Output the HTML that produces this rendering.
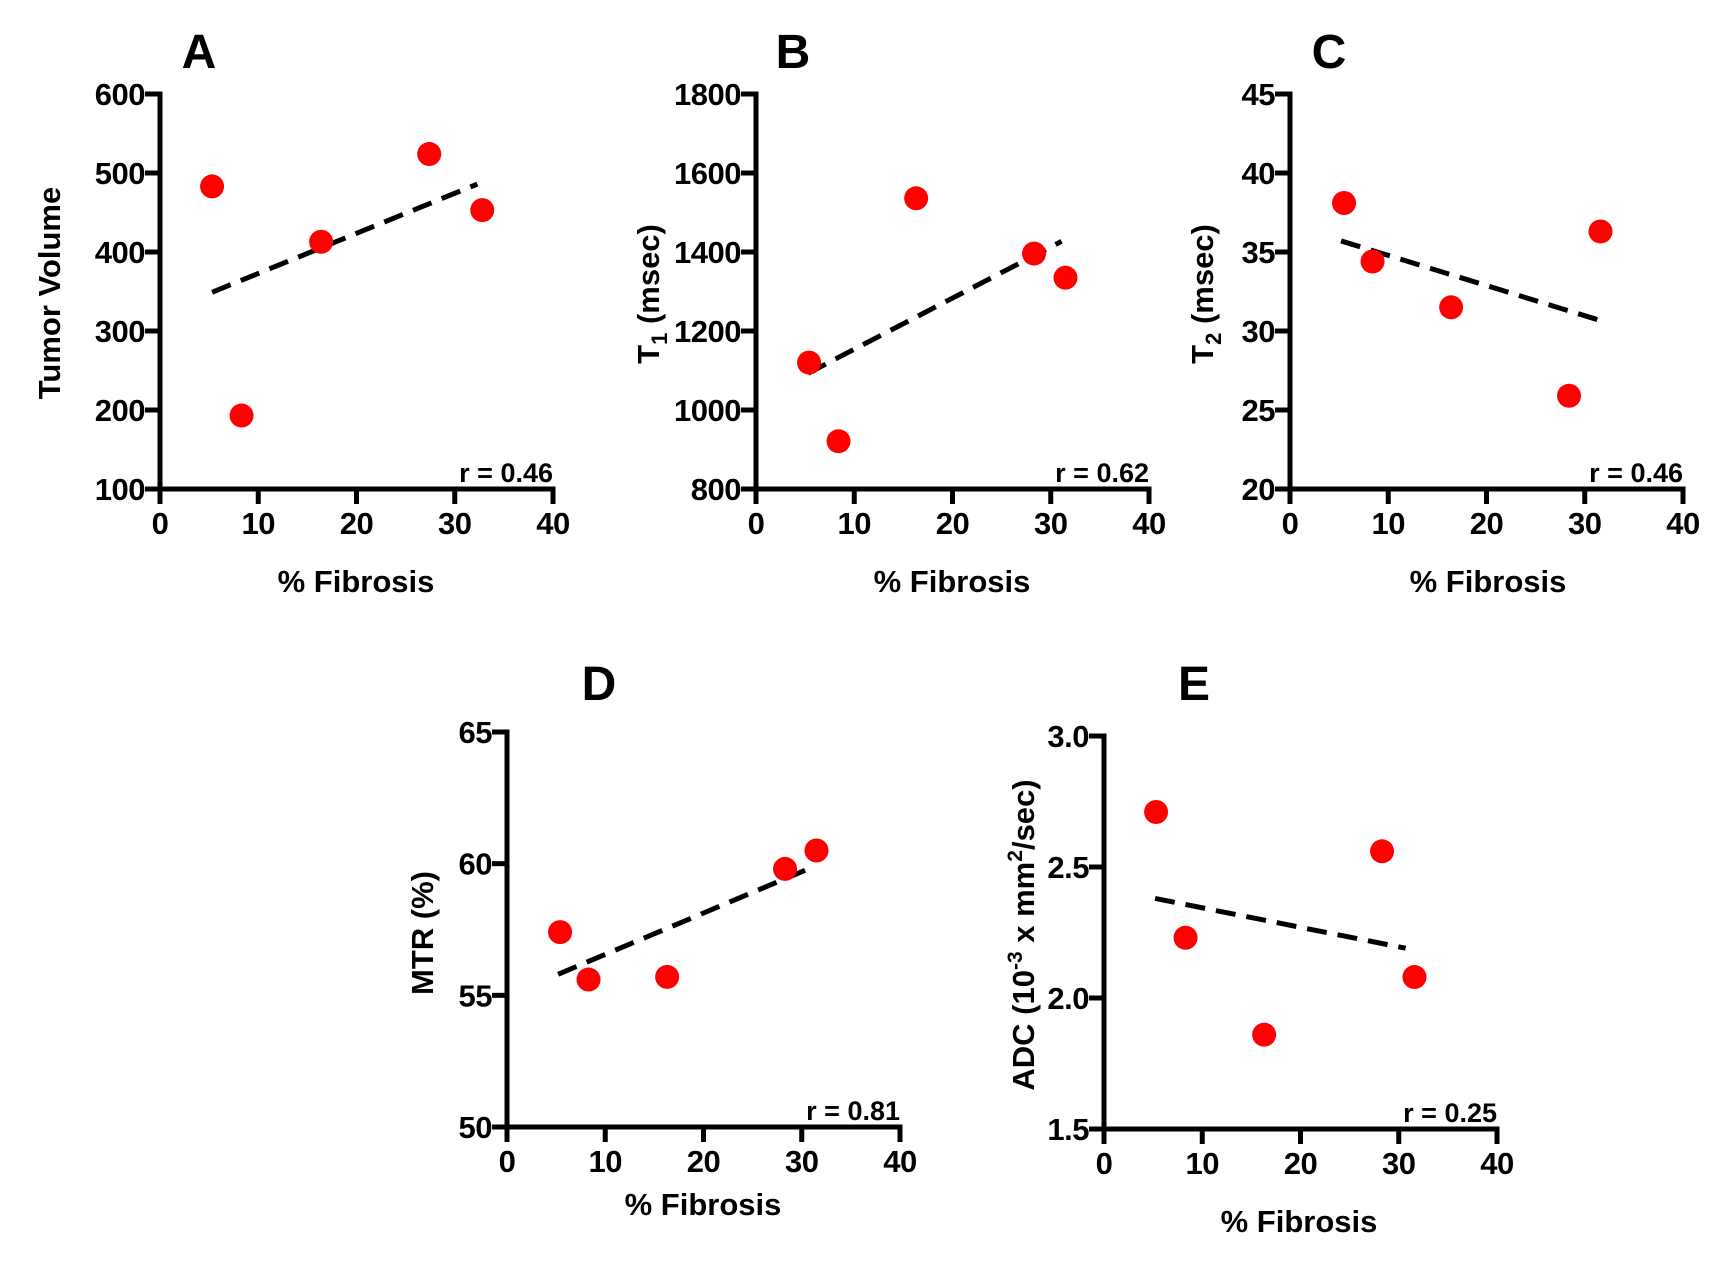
<!DOCTYPE html>
<html><head><meta charset="utf-8"><style>
html,body{margin:0;padding:0;background:#fff;}
svg{display:block;font-family:"Liberation Sans",Arial,sans-serif;font-weight:bold;}
</style></head><body>
<svg id="fig" width="1721" height="1271" viewBox="0 0 1721 1271" xmlns="http://www.w3.org/2000/svg"></svg>
<script>
// Shared x ticks
const xTicks = [0, 10, 20, 30, 40];
// Panel A
const aX = [5.3, 8.3, 16.4, 27.4, 32.8];
const aY = [483, 193, 413, 524, 453];
const aFitX = [5.3, 32.3];
const aFitY = [349, 486];
const aTicks = [100, 200, 300, 400, 500, 600];
// Panel B
const bX = [5.4, 8.4, 16.3, 28.3, 31.5];
const bY = [1120, 921, 1536, 1396, 1335];
const bFitX = [5.3, 31.1];
const bFitY = [1093, 1427];
const bTicks = [800, 1000, 1200, 1400, 1600, 1800];
// Panel C
const cX = [5.5, 8.4, 16.4, 28.4, 31.6];
const cY = [38.1, 34.4, 31.5, 25.9, 36.3];
const cFitX = [5.2, 31.4];
const cFitY = [35.7, 30.7];
const cTicks = [20, 25, 30, 35, 40, 45];
// Panel D
const dX = [5.4, 8.3, 16.3, 28.3, 31.5];
const dY = [57.4, 55.6, 55.7, 59.8, 60.5];
const dFitX = [5.2, 31.3];
const dFitY = [55.8, 59.9];
const dTicks = [50, 55, 60, 65];
// Panel E
const eX = [5.3, 8.3, 16.3, 28.3, 31.6];
const eY = [2.71, 2.23, 1.86, 2.56, 2.08];
const eFitX = [5.2, 30.7];
const eFitY = [2.38, 2.19];
const eTicks = [1.5, 2.0, 2.5, 3.0];
const eTickLabels = ["1.5", "2.0", "2.5", "3.0"];

const NS = "http://www.w3.org/2000/svg";
const svg = document.getElementById("fig");
function mk(tag, attrs, parent) {
  const e = document.createElementNS(NS, tag);
  for (const k in attrs) e.setAttribute(k, attrs[k]);
  (parent || svg).appendChild(e);
  return e;
}

function panel(p) {
  const g = mk("g", {});
  
  
  const W = 393, H = p.h || 395;
  const x0 = p.ax, yb = p.ay, yt = yb - H;
  const sx = v => x0 + (v - 0) / 40 * W;
  const ymin = p.ticks[0], ymax = p.ticks[p.ticks.length - 1];
  const sy = v => yb - (v - ymin) / (ymax - ymin) * H;

  const L = mk("text", {x: p.lx, y: p.ly, "font-size": 48, "text-anchor": "middle"}, g);
  L.textContent = p.id;
  
  

  const ax = mk("path", {d: `M${x0} ${yt} L${x0} ${yb} L${x0 + W} ${yb}`, stroke: "#000", "stroke-width": 5, fill: "none", "stroke-linecap": "square"}, g);
  
  

  p.ticks.forEach((t, i) => {
    const y = sy(t);
    const tk = mk("line", {x1: x0 - 15, x2: x0, y1: y, y2: y, stroke: "#000", "stroke-width": 5}, g);
    
    
    const tl = mk("text", {x: x0 - 15, y: y + 11, "font-size": 31, "text-anchor": "end", "letter-spacing": "-0.5"}, g);
    tl.textContent = p.tickLabels ? p.tickLabels[i] : String(t);
    
    
  });
  xTicks.forEach(t => {
    const x = sx(t);
    const tk = mk("line", {x1: x, x2: x, y1: yb, y2: yb + 15, stroke: "#000", "stroke-width": 5}, g);
    
    
    const tl = mk("text", {x: x, y: yb + 45, "font-size": 31, "text-anchor": "middle", "letter-spacing": "-0.5"}, g);
    tl.textContent = String(t);
    
    
  });

  const xt = mk("text", {x: p.xtx, y: p.xty, "font-size": 31, "text-anchor": "middle"}, g);
  xt.textContent = "% Fibrosis";
  
  

  const yt2 = mk("text", {x: 0, y: 0, "font-size": 31, "text-anchor": "middle", transform: `translate(${p.ytx},${p.yty}) rotate(-90)`}, g);
  yt2.innerHTML = p.ytitle;
  
  

  const r = mk("text", {x: x0 + W, y: yb - 7, "font-size": 27, "text-anchor": "end"}, g);
  r.textContent = "r = " + p.r;
  
  

  const fl = mk("line", {x1: sx(p.fx[0]), y1: sy(p.fy[0]), x2: sx(p.fx[1]), y2: sy(p.fy[1]), stroke: "#000", "stroke-width": 5, "stroke-dasharray": "20 11"}, g);
  
  

  p.xs.forEach((v, i) => {
    const c = mk("circle", {cx: sx(v), cy: sy(p.ys[i]), r: 12, fill: "#ff0000"}, g);
    
    
  });
}

panel({id: "A", ax: 160, ay: 489, ticks: aTicks, xs: aX, ys: aY, fx: aFitX, fy: aFitY, r: "0.46",
  lx: 199, ly: 68, xtx: 356, xty: 592, ytx: 60, yty: 293, ytitle: "Tumor Volume"});
panel({id: "B", ax: 756, ay: 489, ticks: bTicks, xs: bX, ys: bY, fx: bFitX, fy: bFitY, r: "0.62",
  lx: 793, ly: 68, xtx: 952, xty: 592, ytx: 659, yty: 294,
  ytitle: 'T<tspan font-size="22" dy="8">1</tspan><tspan dy="-8"> (msec)</tspan>'});
panel({id: "C", ax: 1290, ay: 489, ticks: cTicks, xs: cX, ys: cY, fx: cFitX, fy: cFitY, r: "0.46",
  lx: 1329, ly: 68, xtx: 1488, xty: 592, ytx: 1213, yty: 294,
  ytitle: 'T<tspan font-size="22" dy="8">2</tspan><tspan dy="-8"> (msec)</tspan>'});
panel({id: "D", ax: 507, ay: 1127, ticks: dTicks, xs: dX, ys: dY, fx: dFitX, fy: dFitY, r: "0.81",
  lx: 599, ly: 700, xtx: 703, xty: 1215, ytx: 433, yty: 933, ytitle: "MTR (%)"});
panel({id: "E", ax: 1104, ay: 1129, h: 393, ticks: eTicks, tickLabels: eTickLabels, xs: eX, ys: eY, fx: eFitX, fy: eFitY, r: "0.25",
  lx: 1194, ly: 700, xtx: 1299, xty: 1232, ytx: 1034, yty: 935,
  ytitle: 'ADC (10<tspan font-size="21" dy="-12">-3</tspan><tspan dy="12"> x mm</tspan><tspan font-size="21" dy="-12">2</tspan><tspan dy="12">/sec)</tspan>'});
</script>
</body></html>
